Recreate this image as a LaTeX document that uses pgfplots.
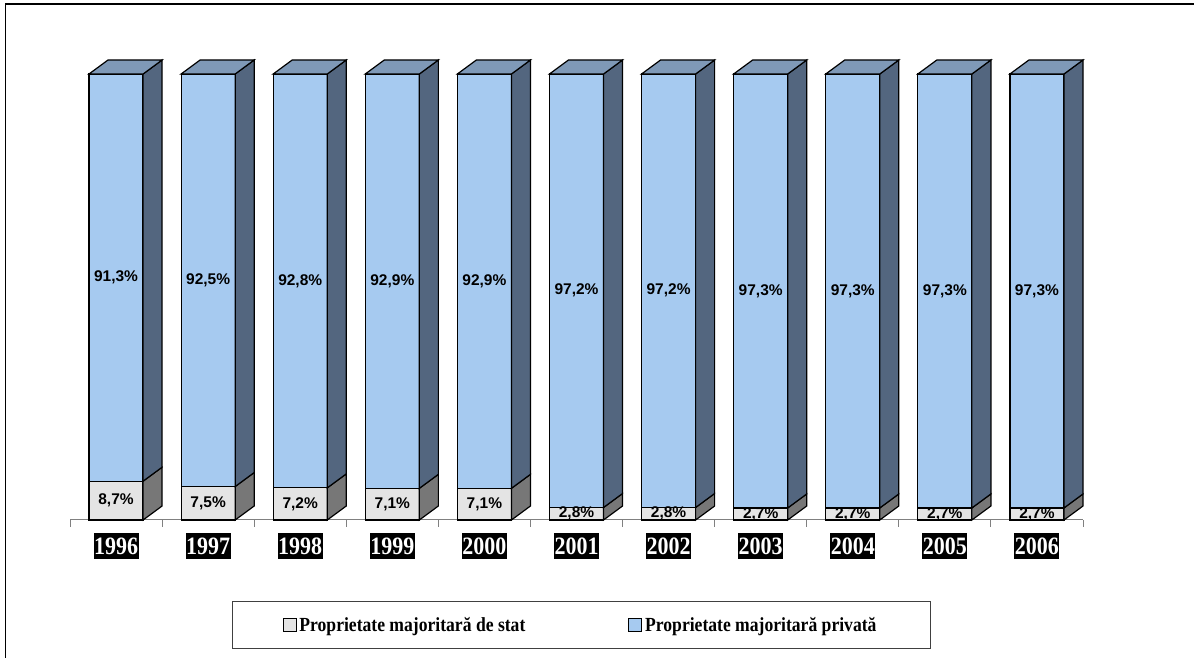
\documentclass[border=0pt]{standalone}
\usepackage{pgfplots}
\pgfplotsset{compat=1.18}
\usepackage{pgfplotstable}
\usepackage{fontspec}
\setmainfont{Liberation Serif}
\newfontfamily\condserif[FakeStretch=0.88]{Liberation Serif}
\newfontfamily\arialfont{Liberation Sans}

\definecolor{stateface}{RGB}{228,228,228}
\definecolor{stateside}{RGB}{119,119,119}
\definecolor{privface}{RGB}{166,202,240}
\definecolor{privtop}{RGB}{127,153,183}
\definecolor{privside}{RGB}{83,102,127}

% share of companies, %: majority state owned / majority private
\pgfplotstableread{
x state priv
0 8.7 91.3
1 7.5 92.5
2 7.2 92.8
3 7.1 92.9
4 7.1 92.9
5 2.8 97.2
6 2.8 97.2
7 2.7 97.3
8 2.7 97.3
9 2.7 97.3
10 2.7 97.3
}\datatable

\begin{document}
\begin{tikzpicture}[x=1pt,y=1pt]
\useasboundingbox (0,0) rectangle (1194,658);
\draw[line width=1.6pt] (5.5,0) -- (5.5,654) -- (1194,654);
\begin{axis}[
    at={(70pt,138pt)}, anchor=south west,
    scale only axis, width=1013pt, height=446pt,
    xmin=-0.5, xmax=10.5, ymin=0, ymax=100,
    clip=false,
    axis x line*=bottom, axis y line=none,
    x axis line style={gray, line width=1pt},
    ytick=\empty,
    xtick={0,...,10},
    xticklabels={1996,1997,1998,1999,2000,2001,2002,2003,2004,2005,2006},
    minor xtick={-0.5,0.5,...,10.5},
    major tick length=0pt, minor tick length=7pt,
    tick align=outside,
    minor tick style={gray, line width=1pt},
    xticklabel style={fill=black, text=white, font=\condserif\bfseries\fontsize{25}{28}\selectfont,
        inner xsep=0.5pt, inner ysep=4.5pt, text height=17pt, text depth=0pt, yshift=-13pt},
    legend columns=2,
    legend style={at={(0.5045,-0.2354)}, anchor=center, draw=black!75, line width=0.8pt,
        font=\condserif\bfseries\fontsize{20}{22}\selectfont,
        inner xsep=50.5pt, inner ysep=14pt,
        nodes={inner xsep=3pt},
        /tikz/every even column/.append style={column sep=100pt}},
    ]
\addlegendimage{legend image code/.code={\draw[fill=stateface, draw=black, line width=0.8pt] (0pt,-6.5pt) rectangle (13pt,6.5pt);}}
\addlegendentry{Proprietate majoritară de stat}
\addlegendimage{legend image code/.code={\draw[fill=privface, draw=black, line width=0.8pt] (0pt,-6.5pt) rectangle (13pt,6.5pt);}}
\addlegendentry{Proprietate majoritară privată}

% front faces
\addplot[ybar, bar shift=0pt, bar width=54pt, fill=privface, draw=black, line width=1.2pt, forget plot]
    table[x=x, y expr=\thisrow{state}+\thisrow{priv}]{\datatable};
\addplot[ybar, bar shift=0pt, bar width=54pt, fill=stateface, draw=black, line width=1.2pt, forget plot]
    table[x=x, y=state]{\datatable};

% side and top faces
\pgfplotsinvokeforeach{0,...,10}{
    \pgfplotstablegetelem{#1}{state}\of\datatable
    \pgfmathsetmacro\ys{\pgfplotsretval}
    \pgfmathsetmacro\ysb{\ys+3.139}
    \pgfmathsetmacro\xa{#1+0.2935}
    \pgfmathsetmacro\xb{#1+0.5}
    \pgfmathsetmacro\xl{#1-0.2935}
    \pgfmathsetmacro\xc{#1-0.087}
    \edef\cmd{%
    \noexpand\addplot[fill=stateside, draw=black, line width=1.2pt, forget plot]
        coordinates {(\xa,0) (\xb,3.139) (\xb,\ysb) (\xa,\ys)} --cycle;
    \noexpand\addplot[fill=privside, draw=black, line width=1.2pt, forget plot]
        coordinates {(\xa,\ys) (\xb,\ysb) (\xb,103.139) (\xa,100)} --cycle;
    \noexpand\addplot[fill=privtop, draw=black, line width=1.2pt, forget plot]
        coordinates {(\xl,100) (\xa,100) (\xb,103.139) (\xc,103.139)} --cycle;
    }\cmd
}

% value labels
\pgfplotsset{pct/.style={only marks, mark=none, forget plot, point meta=explicit,
    nodes near coords={\pgfmathprintnumber[fixed, fixed zerofill, precision=1, use comma, assume math mode=true]{\pgfplotspointmeta}\%},
    nodes near coords align={center},
    every node near coord/.append style={font=\arialfont\bfseries\fontsize{15.5}{17}\selectfont, inner sep=0pt}}}
\addplot[pct] table[x=x, y expr=\thisrow{state}/2, meta=state]{\datatable};
\addplot[pct] table[x=x, y expr=\thisrow{state}+\thisrow{priv}/2, meta=priv]{\datatable};
\end{axis}
\end{tikzpicture}
\end{document}
